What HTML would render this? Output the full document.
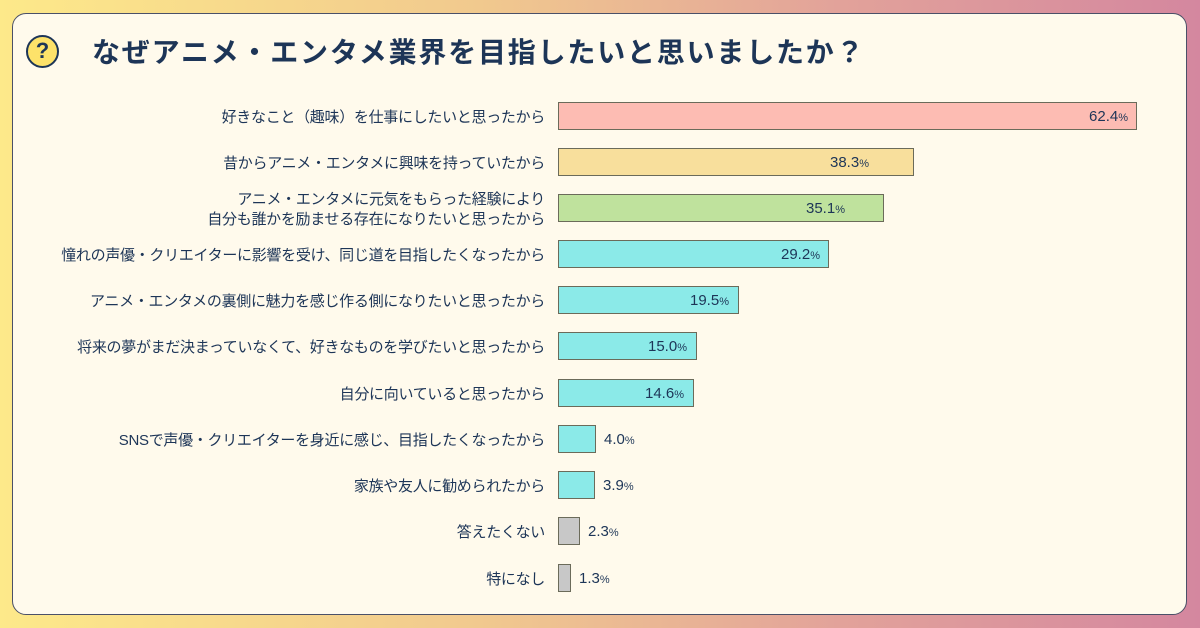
<!DOCTYPE html>
<html><head><meta charset="utf-8"><style>
*{margin:0;padding:0;box-sizing:border-box}
body{width:1200px;height:628px;overflow:hidden;background:linear-gradient(90deg,#fde98a 0%,#f1c98e 40%,#e2a29a 70%,#d4879f 100%);font-family:"Liberation Sans","Noto Sans CJK JP",sans-serif;color:#1d3557;position:relative}
.panel{position:absolute;left:12px;top:13px;width:1175px;height:602px;background:#fffaec;border:1.5px solid #4a5068;border-radius:14px}
.icon{position:absolute;left:26px;top:35px;width:33px;height:33px;border-radius:50%;background:#fde26a;border:2.5px solid #1d3557;font:bold 22px/28px "Liberation Sans",sans-serif;text-align:center;color:#1d3557}
.title{position:absolute;left:92px;top:31px;font-size:28px;font-weight:bold;letter-spacing:1.8px;color:#1d3557;font-family:"Liberation Sans","Noto Sans CJK JP",sans-serif}
.lab{position:absolute;right:655px;font-size:15px;text-align:right;line-height:20px;white-space:nowrap;color:#1d3557;letter-spacing:-0.3px}
.bar{position:absolute;left:558px;height:28px;border:1px solid #6b6b5a}
.val{position:absolute;font-size:15px;line-height:28px;color:#1d3557}
.val small{font-size:11px}
</style></head><body>
<div class="panel"></div>
<div class="icon">?</div>
<div class="title">なぜアニメ・エンタメ業界を目指したいと思いましたか？</div>

<div class="lab" style="top:108px">好きなこと（趣味）を仕事にしたいと思ったから</div>
<div class="bar" style="top:102px;width:579px;background:#fdbcb3"></div>
<div class="val" style="top:103px;right:72px">62.4<small>%</small></div>

<div class="lab" style="top:154px">昔からアニメ・エンタメに興味を持っていたから</div>
<div class="bar" style="top:148px;width:356px;background:#f8df9c"></div>
<div class="val" style="top:149px;left:830px">38.3<small>%</small></div>

<div class="lab" style="top:190px">アニメ・エンタメに元気をもらった経験により<br>自分も誰かを励ませる存在になりたいと思ったから</div>
<div class="bar" style="top:194px;width:326px;background:#bfe29d"></div>
<div class="val" style="top:195px;left:806px">35.1<small>%</small></div>

<div class="lab" style="top:246px">憧れの声優・クリエイターに影響を受け、同じ道を目指したくなったから</div>
<div class="bar" style="top:240px;width:271px;background:#8beae8"></div>
<div class="val" style="top:241px;left:781px">29.2<small>%</small></div>

<div class="lab" style="top:292px">アニメ・エンタメの裏側に魅力を感じ作る側になりたいと思ったから</div>
<div class="bar" style="top:286px;width:181px;background:#8beae8"></div>
<div class="val" style="top:287px;left:690px">19.5<small>%</small></div>

<div class="lab" style="top:338px">将来の夢がまだ決まっていなくて、好きなものを学びたいと思ったから</div>
<div class="bar" style="top:332px;width:139px;background:#8beae8"></div>
<div class="val" style="top:333px;left:648px">15.0<small>%</small></div>

<div class="lab" style="top:385px">自分に向いていると思ったから</div>
<div class="bar" style="top:379px;width:136px;background:#8beae8"></div>
<div class="val" style="top:380px;left:645px">14.6<small>%</small></div>

<div class="lab" style="top:431px">SNSで声優・クリエイターを身近に感じ、目指したくなったから</div>
<div class="bar" style="top:425px;width:38px;background:#8beae8"></div>
<div class="val" style="top:426px;left:604px">4.0<small>%</small></div>

<div class="lab" style="top:477px">家族や友人に勧められたから</div>
<div class="bar" style="top:471px;width:37px;background:#8beae8"></div>
<div class="val" style="top:472px;left:603px">3.9<small>%</small></div>

<div class="lab" style="top:523px">答えたくない</div>
<div class="bar" style="top:517px;width:22px;background:#c8c8c8"></div>
<div class="val" style="top:518px;left:588px">2.3<small>%</small></div>

<div class="lab" style="top:570px">特になし</div>
<div class="bar" style="top:564px;width:13px;background:#c8c8c8"></div>
<div class="val" style="top:565px;left:579px">1.3<small>%</small></div>
</body></html>
